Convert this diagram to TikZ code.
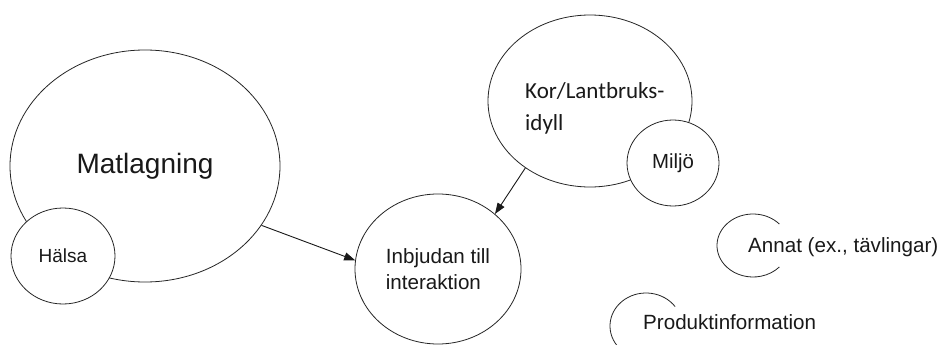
\documentclass[tikz,border=0pt]{standalone}
\usepackage{fontspec}
\setmainfont{Liberation Sans}
\newfontfamily\calibrilike{Carlito}
\usetikzlibrary{shapes.geometric,arrows.meta}
\tikzset{
  bubble/.style={ellipse, draw=black!85, line width=0.8pt, fill=white, inner sep=0pt, text=black!90},
  arr/.style={draw=black!90, line width=0.9pt, -{Triangle[length=11pt,width=8pt]}},
  lbl/.style={inner sep=0pt, text=black!90, font=\fontsize{20.6}{26}\selectfont},
  arcline/.style={draw=black!85, line width=0.8pt}
}
\begin{document}
\begin{tikzpicture}[x=1pt,y=-1pt]
\path[use as bounding box, clip] (0,0) rectangle (942,345);
\fill[white] (0,0) rectangle (942,345);
% Matlagning and Hälsa
\node[bubble, minimum width=270pt, minimum height=232pt, font=\fontsize{28}{34}\selectfont] (mat) at (145,166) {Matlagning};
\node[bubble, minimum width=104pt, minimum height=96pt, font=\fontsize{19}{23}\selectfont] (hal) at (63,256) {Hälsa};
% Kor and Miljö
\node[bubble, minimum width=204pt, minimum height=172pt] (kor) at (590,101) {};
\node[lbl, align=left, anchor=north west, font=\calibrilike\fontsize{23}{32}\selectfont] (kortext) at (525,82) {Kor/Lantbruks-\\idyll};
\node[bubble, minimum width=92pt, minimum height=86pt, font=\fontsize{20.4}{24}\selectfont] (mil) at (673,163) {Miljö};
% Inbjudan
\node[bubble, minimum width=166pt, minimum height=150pt, align=left, font=\fontsize{20.6}{26}\selectfont] (inb) at (438,269) {Inbjudan till\\interaktion};
% arrows
\draw[arr] (mat.-27.5) -- (inb.174);
\draw[arr] (kor.226) -- (inb.44);
% Annat
\coordinate (annc) at (753,245.5);
\draw[arcline] ([shift={(43:36pt and 31.5pt)}]annc) arc[start angle=43, end angle=317, x radius=36pt, y radius=31.5pt];
\node[lbl, anchor=west] (ann) at (748,247) {Annat (ex., tävlingar)};
% Produktinformation
\coordinate (proc) at (646,326);
\draw[arcline] ([shift={(36:36pt and 33pt)}]proc) arc[start angle=36, end angle=300, x radius=36pt, y radius=33pt];
\node[lbl, anchor=west] (pro) at (643,322) {Produktinformation};
\end{tikzpicture}
\end{document}
